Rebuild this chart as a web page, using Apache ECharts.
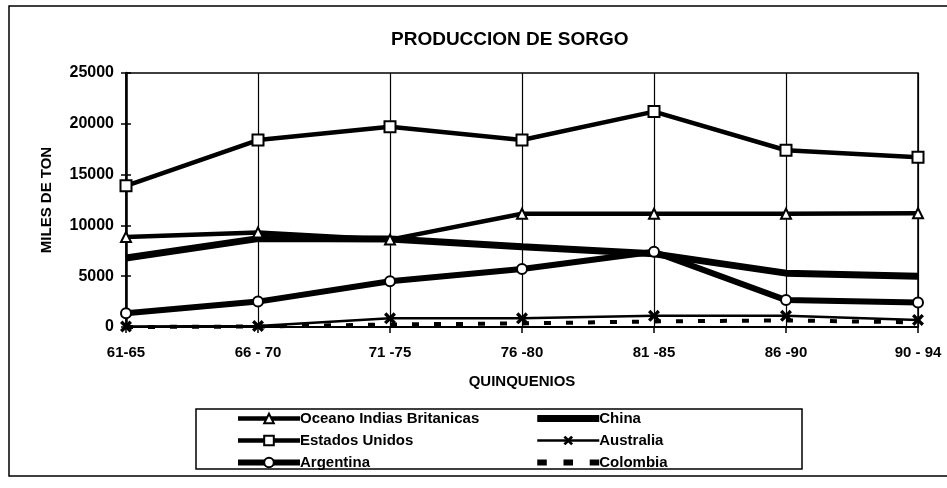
<!DOCTYPE html>
<html>
<head>
<meta charset="utf-8">
<script src="https://cdn.jsdelivr.net/npm/echarts@6/dist/echarts.min.js"></script>
<style>html,body{margin:0;padding:0;background:#fff}#c{width:947px;height:488px}</style>
</head>
<body>
<div id="c"></div>
<script>
const categories = ['61-65', '66 - 70', '71 -75', '76 -80', '81 -85', '86 -90', '90 - 94'];
const oceano = [8850, 9300, 8600, 11150, 11150, 11150, 11200];
const estadosUnidos = [13900, 18400, 19700, 18400, 21200, 17400, 16700];
const argentina = [1350, 2500, 4500, 5700, 7400, 2650, 2400];
const china = [6800, 8700, 8650, 7900, 7200, 5300, 5000];
const australia = [50, 100, 850, 850, 1100, 1100, 700];
const colombia = [0, 50, 250, 350, 550, 650, 450];
const yTicks = { min: 0, max: 25000, interval: 5000 };

const FONT = '"Liberation Sans", Arial, sans-serif';
const xSym = 'path://M0,2 L2,0 L5,3 L8,0 L10,2 L7,5 L10,8 L8,10 L5,7 L2,10 L0,8 L3,5 Z';
const thickIcon = 'path://M0,0H62V7H0Z';
const dashIcon = 'path://M0,0H8V5H0Z M22,0H30V5H22Z M44,0H52V5H44Z';

const legendText = { fontFamily: FONT, fontWeight: 'bold', fontSize: 15, color: '#000', padding: [0, 0, 0, -5] };

const chart = echarts.init(document.getElementById('c'));
chart.setOption({
  animation: false,
  backgroundColor: '#fff',
  title: {
    text: 'PRODUCCION DE SORGO',
    left: 386, top: 25,
    textStyle: { fontFamily: FONT, fontWeight: 'bold', fontSize: 19, color: '#000' }
  },
  grid: { left: 126, right: 29, top: 73, bottom: 161, show: true, borderColor: '#000', borderWidth: 1.5, backgroundColor: 'transparent' },
  legend: [
    {
      orient: 'vertical', left: 230, top: 406, itemWidth: 62, itemHeight: 12, itemGap: 7,
      lineStyle: { width: 'inherit' },
      data: ['Oceano Indias Britanicas', 'Estados Unidos', 'Argentina'],
      textStyle: legendText
    },
    {
      orient: 'vertical', left: 531, top: 406, itemWidth: 62, itemHeight: 12, itemGap: 7,
      lineStyle: { width: 'inherit' },
      data: [
        { name: 'China', icon: thickIcon },
        'Australia',
        { name: 'Colombia', icon: dashIcon }
      ],
      textStyle: legendText
    }
  ],
  xAxis: {
    type: 'category', data: categories, boundaryGap: false,
    name: 'QUINQUENIOS', nameLocation: 'middle', nameGap: 47,
    nameTextStyle: { fontFamily: FONT, fontWeight: 'bold', fontSize: 15, color: '#000' },
    axisLine: { lineStyle: { color: '#000', width: 2 } },
    axisTick: { show: true, length: 6, lineStyle: { color: '#000', width: 1.5 } },
    axisLabel: { fontFamily: FONT, fontWeight: 'bold', fontSize: 15, color: '#000', margin: 18 },
    splitLine: { show: true, lineStyle: { color: '#000', width: 1.2 } }
  },
  yAxis: [
    {
      type: 'value', min: yTicks.min, max: yTicks.max, interval: yTicks.interval,
      name: 'MILES DE TON', nameLocation: 'middle', nameGap: 72,
      nameTextStyle: { fontFamily: FONT, fontWeight: 'bold', fontSize: 15, color: '#000' },
      axisLine: { show: true, lineStyle: { color: '#000', width: 2.5 } },
      axisTick: { show: true, length: 5, lineStyle: { color: '#000', width: 1.5 } },
      axisLabel: { fontFamily: FONT, fontWeight: 'bold', fontSize: 16, color: '#000', margin: 12, formatter: v => String(v) },
      splitLine: { show: false }
    },
    {
      type: 'value', min: yTicks.min, max: yTicks.max, interval: yTicks.interval, position: 'left',
      axisLine: { show: false },
      axisTick: { show: true, inside: true, length: 5, lineStyle: { color: '#000', width: 1.5 } },
      axisLabel: { show: false },
      splitLine: { show: false }
    }
  ],
  series: [
    {
      name: 'Oceano Indias Britanicas', type: 'line', data: oceano, z: 3,
      symbol: 'triangle', symbolSize: 10,
      lineStyle: { color: '#000', width: 4.5 },
      itemStyle: { color: '#fff', borderColor: '#000', borderWidth: 2 }
    },
    {
      name: 'Estados Unidos', type: 'line', data: estadosUnidos, z: 3,
      symbol: 'rect', symbolSize: 11,
      lineStyle: { color: '#000', width: 4.5 },
      itemStyle: { color: '#fff', borderColor: '#000', borderWidth: 2 }
    },
    {
      name: 'Argentina', type: 'line', data: argentina, z: 3,
      symbol: 'circle', symbolSize: 10,
      lineStyle: { color: '#000', width: 6 },
      itemStyle: { color: '#fff', borderColor: '#000', borderWidth: 2 }
    },
    {
      name: 'China', type: 'line', data: china, z: 2,
      symbol: 'none', showSymbol: false,
      lineStyle: { color: '#000', width: 7 },
      itemStyle: { color: '#000' }
    },
    {
      name: 'Australia', type: 'line', data: australia, z: 3,
      symbol: xSym, symbolSize: 12,
      lineStyle: { color: '#000', width: 2.5 },
      itemStyle: { color: '#000' }
    },
    {
      name: 'Colombia', type: 'line', data: colombia, z: 2,
      symbol: 'none', showSymbol: false,
      lineStyle: { color: '#000', width: 4, type: [7, 15] },
      itemStyle: { color: '#000' }
    }
  ],
  graphic: [
    { type: 'rect', shape: { x: 9, y: 6, width: 960, height: 470 }, style: { fill: 'none', stroke: '#000', lineWidth: 1.5 }, silent: true, z: -1 },
    { type: 'rect', shape: { x: 196, y: 409, width: 606, height: 60 }, style: { fill: 'none', stroke: '#000', lineWidth: 1.5 }, silent: true, z: -1 }
  ]
});
</script>
</body>
</html>
